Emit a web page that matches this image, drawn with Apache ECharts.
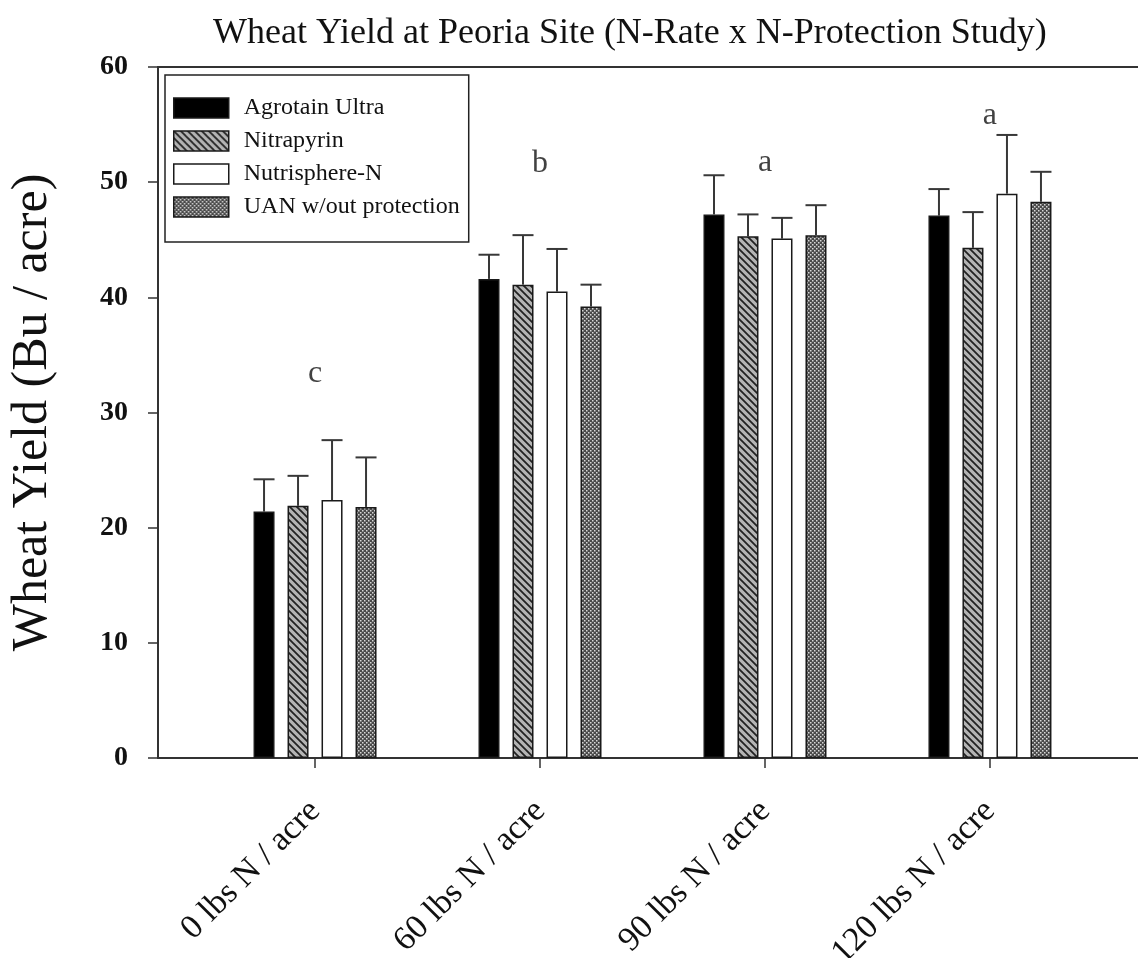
<!DOCTYPE html>
<html>
<head>
<meta charset="utf-8">
<script src="https://cdn.jsdelivr.net/npm/echarts@6/dist/echarts.min.js"></script>
<style>html,body{margin:0;padding:0;background:#fff;}#c{width:1138px;height:958px;}</style>
</head>
<body>
<div id="c"></div>
<script>
var categories = ['0 lbs N / acre', '60 lbs N / acre', '90 lbs N / acre', '120 lbs N / acre'];
var seriesNames = ['Agrotain Ultra', 'Nitrapyrin', 'Nutrisphere-N', 'UAN w/out protection'];
var agrotain = [21.4, 41.6, 47.2, 47.1];
var nitrapyrin = [21.9, 41.1, 45.3, 44.3];
var nutrisphere = [22.4, 40.5, 45.1, 49.0];
var uan = [21.8, 39.2, 45.4, 48.3];
var agrotainErr = [24.2, 43.7, 50.6, 49.4];
var nitrapyrinErr = [24.5, 45.4, 47.2, 47.4];
var nutrisphereErr = [27.6, 44.2, 46.9, 54.1];
var uanErr = [26.1, 41.1, 48.0, 50.9];
var letters = ['c', 'b', 'a', 'a'];
var letterY = [33.4, 51.6, 51.7, 55.8];
var yTicks = [0, 10, 20, 30, 40, 50, 60];

var serif = "'Times New Roman', 'Liberation Serif', serif";
var BAR_W = 21, BAR_GAP = 13;

function makePattern(kind) {
  var c = document.createElement('canvas');
  var ctx = c.getContext('2d');
  if (kind === 'hatch') {
    c.width = 7; c.height = 7;
    ctx.fillStyle = '#b4b4b4'; ctx.fillRect(0, 0, 7, 7);
    ctx.strokeStyle = '#222'; ctx.lineWidth = 1.8;
    ctx.beginPath();
    ctx.moveTo(-1, -1); ctx.lineTo(8, 8);
    ctx.moveTo(-1, 6); ctx.lineTo(1, 8);
    ctx.moveTo(6, -1); ctx.lineTo(8, 1);
    ctx.stroke();
  } else {
    c.width = 4; c.height = 4;
    ctx.fillStyle = '#4a4a4a'; ctx.fillRect(0, 0, 4, 4);
    ctx.fillStyle = '#d8d8d8';
    ctx.fillRect(0, 0, 1.5, 1.5);
    ctx.fillRect(2, 2, 1.5, 1.5);
  }
  return { image: c, repeat: 'repeat' };
}

var fills = ['#000', makePattern('hatch'), '#fff', makePattern('dots')];
var values = [agrotain, nitrapyrin, nutrisphere, uan];
var errs = [agrotainErr, nitrapyrinErr, nutrisphereErr, uanErr];

var series = [];
values.forEach(function (vals, si) {
  series.push({
    name: seriesNames[si],
    type: 'bar',
    barWidth: BAR_W,
    barGap: (BAR_GAP / BAR_W * 100) + '%',
    itemStyle: { color: fills[si], borderColor: '#1a1a1a', borderWidth: 1.5 },
    data: vals.map(function (v, i) { return [i, v]; }),
    z: 2
  });
});

var errData = [];
errs.forEach(function (arr, si) {
  arr.forEach(function (e, i) { errData.push([i, values[si][i], e, si]); });
});

series.push({
  type: 'custom',
  name: 'err',
  z: 1,
  renderItem: function (params, api) {
    var si = api.value(3);
    var off = (si - 1.5) * (BAR_W + BAR_GAP);
    var p0 = api.coord([api.value(0), api.value(1)]);
    var p1 = api.coord([api.value(0), api.value(2)]);
    var x = p0[0] + off;
    return {
      type: 'group',
      children: [
        { type: 'line', shape: { x1: x, y1: p0[1], x2: x, y2: p1[1] }, style: { stroke: '#383838', lineWidth: 2 } },
        { type: 'line', shape: { x1: x - BAR_W / 2, y1: p1[1], x2: x + BAR_W / 2, y2: p1[1] }, style: { stroke: '#383838', lineWidth: 2 } }
      ]
    };
  },
  encode: { x: 0, y: 2 },
  data: errData
});

series.push({
  type: 'scatter',
  symbolSize: 0,
  silent: true,
  label: {
    show: true, position: 'inside',
    formatter: function (p) { return p.data[2]; },
    fontFamily: serif, fontSize: 32, color: '#111'
  },
  data: letters.map(function (l, i) { return [i, letterY[i], l]; })
});

var chart = echarts.init(document.getElementById('c'), null, { renderer: 'canvas' });
chart.setOption({
  animation: false,
  backgroundColor: '#fff',
  title: {
    text: 'Wheat Yield at Peoria Site (N-Rate x N-Protection Study)',
    left: 208, top: 11,
    textStyle: { fontFamily: serif, fontSize: 36, fontWeight: 'normal', color: '#111' }
  },
  legend: {
    orient: 'vertical',
    left: 165, top: 75,
    data: seriesNames,
    icon: 'rect',
    itemWidth: 55, itemHeight: 20, itemGap: 9,
    padding: [21, 9, 23, 8],
    borderColor: '#222', borderWidth: 1.5,
    backgroundColor: '#fff',
    textStyle: { fontFamily: serif, fontSize: 24, color: '#111', padding: [0, 0, 0, 10] },
    itemStyle: { borderColor: '#1a1a1a', borderWidth: 1.5 }
  },
  grid: { left: 158, right: 0, top: 67, bottom: 200, outerBoundsMode: 'none', containLabel: false },
  xAxis: [{
    type: 'value',
    min: -0.698, max: 3.658,
    splitLine: { show: false },
    axisLine: { show: true, onZero: false, lineStyle: { color: '#333', width: 2 } },
    axisTick: { show: true, customValues: [0, 1, 2, 3], length: 10, inside: false, lineStyle: { color: '#333', width: 1.5 } },
    axisLabel: {
      customValues: [0, 1, 2, 3],
      formatter: function (v) { return categories[Math.round(v)]; },
      rotate: 45, margin: 48,
      fontFamily: serif, fontSize: 34, color: '#111'
    }
  }, {
    type: 'value', position: 'top',
    min: -0.698, max: 3.658,
    splitLine: { show: false },
    axisLine: { show: true, onZero: false, lineStyle: { color: '#333', width: 2 } },
    axisTick: { show: false }, axisLabel: { show: false }
  }],
  yAxis: {
    type: 'value', min: 0, max: 60, interval: 10,
    name: 'Wheat Yield (Bu / acre)',
    nameLocation: 'middle', nameGap: 100,
    nameTextStyle: { fontFamily: serif, fontSize: 50, color: '#111' },
    splitLine: { show: false },
    axisLine: { show: true, onZero: false, lineStyle: { color: '#333', width: 2 } },
    axisTick: { show: true, length: 10, lineStyle: { color: '#333', width: 1.5 } },
    axisLabel: {
      margin: 30,
      fontFamily: serif, fontSize: 28, fontWeight: 'bold', color: '#111',
      formatter: function (v) { return yTicks.indexOf(v) >= 0 ? String(v) : ''; }
    }
  },
  series: series
});
</script>
</body>
</html>
